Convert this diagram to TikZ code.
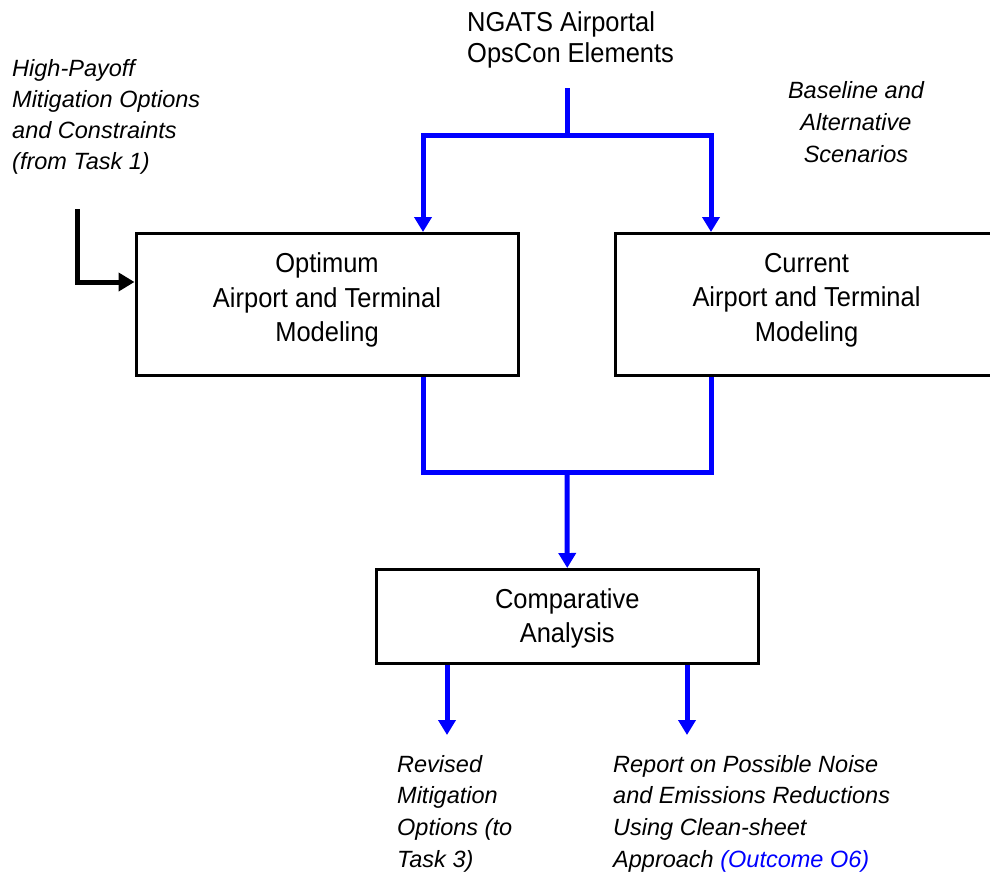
\documentclass[tikz,border=0pt]{standalone}
\usepackage{fontspec}
\setmainfont{Liberation Sans}
\newfontfamily\narrowsans[FakeStretch=0.93]{Liberation Sans}
\usetikzlibrary{arrows.meta}
\definecolor{flowblue}{RGB}{0,0,255}
\newcommand\deepstrut{\rule[-14.4pt]{0pt}{14.4pt}}
\newcommand\tallstrut{\rule{0pt}{24.3pt}}
\begin{document}
\begin{tikzpicture}[x=1pt,y=-1pt,
  procbox/.style={draw=black,line width=3pt,rectangle,align=center,
    font={\narrowsans\fontsize{27.4}{34.5}\selectfont},inner sep=0pt},
  headtext/.style={align=left,inner sep=0pt,font={\narrowsans\fontsize{27.4}{31}\selectfont}},
  notetext/.style={inner sep=0pt,font={\fontsize{23.5}{31}\selectfont\itshape}},
  flow/.style={draw=flowblue,line width=5pt},
  flowarrow/.style={flow,-{Triangle[width=17pt,length=15pt]}},
  feedarrow/.style={draw=black,line width=5pt,-{Triangle[width=18pt,length=16pt]}}]
\useasboundingbox (0,0) rectangle (990,873);
\clip (0,0) rectangle (990,873);

% boxes
\node[procbox,minimum width=382pt,minimum height=142pt] (opt) at (327,304.5)
  {Optimum\\Airport and Terminal\\Modeling\deepstrut};
\node[procbox,minimum width=382pt,minimum height=142pt] (cur) at (806.5,304.5)
  {Current\\Airport and Terminal\\Modeling\deepstrut};
\node[procbox,minimum width=381.5pt,minimum height=93.5pt] (comp) at (567.25,616.25)
  {\tallstrut Comparative\\Analysis};

% texts
\node[headtext,anchor=north west] (ngats) at (467,11.9)
  {NGATS Airportal\\OpsCon Elements};
\node[notetext,align=left,anchor=north west] (payoff) at (12,58.8)
  {High-Payoff\\Mitigation Options\\and Constraints\\(from Task 1)};
\node[notetext,align=center,anchor=north,font={\fontsize{23.5}{32}\selectfont\itshape}] (scen) at (856,80.8)
  {Baseline and\\Alternative\\Scenarios};
\node[notetext,align=left,anchor=north west,font={\fontsize{23.5}{31.7}\selectfont\itshape}] (revised) at (397,754.8)
  {Revised\\Mitigation\\Options (to\\Task 3)};
\node[notetext,align=left,anchor=north west,font={\fontsize{23.5}{31.7}\selectfont\itshape}] (report) at (613,754.8)
  {Report on Possible Noise\\and Emissions Reductions\\Using Clean-sheet\\Approach \textcolor{flowblue}{(Outcome O6)}};

% junctions and free ends
\coordinate (src) at (567,88);
\coordinate (jtop) at (567,135);
\coordinate (jbot) at (567,472);
\coordinate (hp) at (77,209);
\coordinate (outA) at (447,735);
\coordinate (outB) at (687,735);

% connectors
\draw[flow] (src) -- (jtop);
\draw[flowarrow] (jtop) -| ([xshift=96pt]opt.north);
\draw[flowarrow] (jtop) -| ([xshift=-95.5pt]cur.north);
\draw[flow] ([xshift=96pt]opt.south) |- (jbot);
\draw[flow] ([xshift=-95.5pt]cur.south) |- (jbot);
\draw[flowarrow] (jbot) -- (comp.north);
\draw[flowarrow] ([xshift=-120.25pt]comp.south) -- (outA);
\draw[flowarrow] ([xshift=119.75pt]comp.south) -- (outB);
\draw[feedarrow] (hp) |- ([yshift=22.5pt]opt.west);
\end{tikzpicture}
\end{document}
